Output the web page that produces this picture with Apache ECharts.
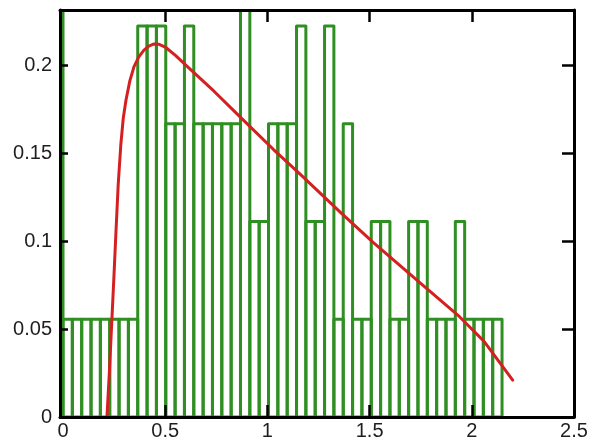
<!DOCTYPE html>
<html>
<head>
<meta charset="utf-8">
<script src="https://cdn.jsdelivr.net/npm/echarts@6/dist/echarts.min.js"></script>
<style>
  html, body { margin: 0; padding: 0; background: #fff; }
  #chart { width: 609px; height: 448px; }
</style>
</head>
<body>
<div id="chart"></div>
<script>
// Histogram: 47 equal-width bins starting at 0 (density values)
const binStart = 0;
const binWidth = 0.0457;
const binDensity = [
  0.0556, 0.0556, 0.0556, 0.0556, 0.0556, 0.0556, 0.0556, 0.0556,
  0.2222, 0.2222, 0.2222,
  0.1667, 0.1667,
  0.2222,
  0.1667, 0.1667, 0.1667, 0.1667, 0.1667,
  0.2778,
  0.1111, 0.1111,
  0.1667, 0.1667, 0.1667,
  0.2222,
  0.1111, 0.1111,
  0.2222,
  0.0556,
  0.1667,
  0.0556, 0.0556,
  0.1111, 0.1111,
  0.0556, 0.0556,
  0.1111, 0.1111,
  0.0556, 0.0556, 0.0556,
  0.1111,
  0.0556, 0.0556, 0.0556, 0.0556
];
// Tall bin just left of zero (runs off the top of the plot)
const edgeBin = [-0.0457, 0, 0.5];

// Fitted density curve
const curveX = [0.215, 0.228, 0.239, 0.25, 0.259, 0.27, 0.283, 0.295, 0.308, 0.327, 0.347, 0.37, 0.396, 0.42, 0.445, 0.47, 0.503, 0.55, 0.61, 0.74, 0.88, 1.03, 1.16, 1.36, 1.52, 1.75, 1.94, 2.06, 2.20];
const curveY = [0, 0.028, 0.055, 0.082, 0.105, 0.132, 0.155, 0.170, 0.180, 0.191, 0.199, 0.2045, 0.2085, 0.2108, 0.212, 0.2118, 0.2100, 0.2055, 0.199, 0.185, 0.169, 0.152, 0.138, 0.116, 0.099, 0.076, 0.057, 0.043, 0.021];

// Axis ticks and labels
const xLabels = [0, 0.5, 1, 1.5, 2, 2.5];
const xTicks = [0.5, 1, 1.5, 2];
const yLabels = [0, 0.05, 0.1, 0.15, 0.2];
const yTicks = [0.05, 0.1, 0.15, 0.2];

const GREEN = '#2f8f22';
const RED = '#d42020';

const binData = binDensity.map((d, i) => [binStart + i * binWidth, binStart + (i + 1) * binWidth, d]);
binData.unshift(edgeBin);
const curveData = curveX.map((x, i) => [x, curveY[i]]);

function renderBin(params, api) {
  const a = api.coord([api.value(0), 0]);
  const b = api.coord([api.value(1), api.value(2)]);
  return {
    type: 'rect',
    shape: { x: a[0], y: b[1], width: b[0] - a[0], height: a[1] - b[1] },
    style: { fill: 'none', stroke: GREEN, lineWidth: 3, lineJoin: 'round' }
  };
}

const font = { fontFamily: 'Liberation Sans, Arial, sans-serif', fontSize: 20, color: '#1e1e1e' };
const frameLine = { show: true, onZero: false, lineStyle: { color: '#000', width: 3 } };
const tickStyle = { color: '#000', width: 2.5 };

const chart = echarts.init(document.getElementById('chart'), null, { renderer: 'canvas' });
chart.setOption({
  animation: false,
  backgroundColor: '#fff',
  grid: { left: 60, right: 35, top: 10, bottom: 31, containLabel: false },
  xAxis: [
    {
      type: 'value', position: 'bottom', min: -0.0147, max: 2.5, z: 10,
      axisLine: frameLine, splitLine: { show: false },
      axisTick: { show: true, inside: true, length: 12, lineStyle: tickStyle, customValues: xTicks },
      axisLabel: Object.assign({ margin: 4, customValues: xLabels, formatter: v => String(v) }, font)
    },
    {
      type: 'value', position: 'top', min: -0.0147, max: 2.5, z: 10,
      axisLine: frameLine, splitLine: { show: false },
      axisTick: { show: true, inside: true, length: 12, lineStyle: tickStyle, customValues: xTicks },
      axisLabel: { show: false }
    }
  ],
  yAxis: [
    {
      type: 'value', position: 'left', min: 0, max: 0.2313, z: 10,
      axisLine: frameLine, splitLine: { show: false },
      axisTick: { show: true, inside: true, length: 8, lineStyle: tickStyle, customValues: yTicks },
      axisLabel: Object.assign({ margin: 8, customValues: yLabels, formatter: v => String(v) }, font)
    },
    {
      type: 'value', position: 'right', min: 0, max: 0.2313, z: 10,
      axisLine: frameLine, splitLine: { show: false },
      axisTick: { show: true, inside: true, length: 12, lineStyle: tickStyle, customValues: yTicks },
      axisLabel: { show: false }
    }
  ],
  series: [
    {
      type: 'custom', xAxisIndex: 0, yAxisIndex: 0, clip: true, z: 2,
      renderItem: renderBin, data: binData
    },
    {
      type: 'line', xAxisIndex: 0, yAxisIndex: 0, z: 3,
      data: curveData, showSymbol: false, smooth: false,
      lineStyle: { color: RED, width: 3, join: 'round', cap: 'round' }
    }
  ]
});
</script>
</body>
</html>
